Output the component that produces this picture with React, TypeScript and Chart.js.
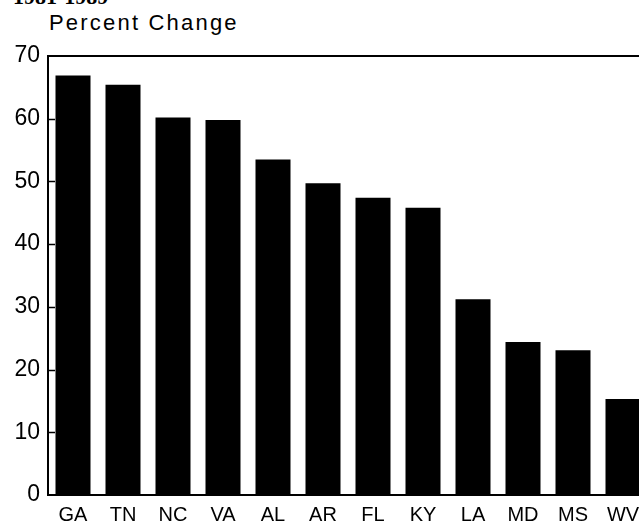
import React, { useEffect, useRef } from "react";
import { Chart, registerables } from "chart.js";

Chart.register(...registerables);

const categories = ["GA", "TN", "NC", "VA", "AL", "AR", "FL", "KY", "LA", "MD", "MS", "WV"];
const percentChange = [66.9, 65.4, 60.2, 59.8, 53.5, 49.7, 47.4, 45.8, 31.2, 24.4, 23.1, 15.3];
const yTicks = [0, 10, 20, 30, 40, 50, 60, 70];
const topTitle = "1981-1989";
const axisTitle = "Percent Change";

const framePlugin = {
  id: "frame",
  afterDraw(chart: any) {
    const { ctx, chartArea } = chart;
    const y = chart.scales.y;
    ctx.save();
    ctx.strokeStyle = "#000";
    ctx.lineWidth = 2;
    ctx.strokeRect(chartArea.left, chartArea.top, chartArea.right - chartArea.left, chartArea.bottom - chartArea.top);
    ctx.lineWidth = 1.5;
    yTicks.forEach((v) => {
      if (v === 0 || v === 70) return;
      const py = Math.round(y.getPixelForValue(v)) + 0.5;
      ctx.beginPath();
      ctx.moveTo(chartArea.left, py);
      ctx.lineTo(chartArea.left + 7, py);
      ctx.stroke();
    });
    ctx.restore();
  },
};

export default function App() {
  const ref = useRef<HTMLCanvasElement | null>(null);
  useEffect(() => {
    if (!ref.current) return;
    const chart = new Chart(ref.current, {
      type: "bar",
      data: {
        labels: categories,
        datasets: [
          {
            data: percentChange,
            backgroundColor: "#000",
            borderWidth: 0,
            barPercentage: 0.7,
            categoryPercentage: 1.0,
          },
        ],
      },
      options: {
        responsive: false,
        animation: false,
        layout: { padding: { top: 56, right: 12, left: 0, bottom: 0 } },
        plugins: { legend: { display: false }, tooltip: { enabled: false }, title: { display: false } },
        scales: {
          x: {
            grid: { display: false, drawTicks: false },
            border: { display: false },
            ticks: {
              color: "#000",
              padding: 8,
              font: { family: "'Liberation Sans', Arial, sans-serif", size: 20 },
              maxRotation: 0,
              autoSkip: false,
            },
            afterFit: (s: any) => {
              s.height = 29;
            },
          },
          y: {
            min: 0,
            max: 70,
            grid: { display: false, drawTicks: false },
            border: { display: false },
            ticks: {
              stepSize: 10,
              color: "#000",
              padding: 8,
              font: { family: "'Liberation Sans', Arial, sans-serif", size: 23 },
              callback: (v: any) => (yTicks.includes(Number(v)) ? String(v) : ""),
            },
            afterFit: (s: any) => {
              s.width = 48;
            },
          },
        },
      },
      plugins: [framePlugin],
    });
    return () => chart.destroy();
  }, []);

  return (
    <div
      style={{
        position: "fixed",
        left: 0,
        top: 0,
        width: 639,
        height: 524,
        overflow: "hidden",
        background: "#fff",
      }}
    >
      <div
        style={{
          position: "absolute",
          left: 13,
          top: -14,
          fontFamily: "'Liberation Serif', 'DejaVu Serif', serif",
          fontWeight: "bold",
          fontSize: 22,
          lineHeight: "22px",
          color: "#000",
          whiteSpace: "nowrap",
        }}
      >
        {topTitle}
      </div>
      <div
        style={{
          position: "absolute",
          left: 49,
          top: 10,
          fontFamily: "'Liberation Sans', Arial, sans-serif",
          fontSize: 22,
          lineHeight: "26px",
          letterSpacing: "2.2px",
          color: "#000",
          whiteSpace: "nowrap",
        }}
      >
        {axisTitle}
      </div>
      <canvas ref={ref} width={660} height={524} style={{ position: "absolute", left: 0, top: 0 }} />
    </div>
  );
}
